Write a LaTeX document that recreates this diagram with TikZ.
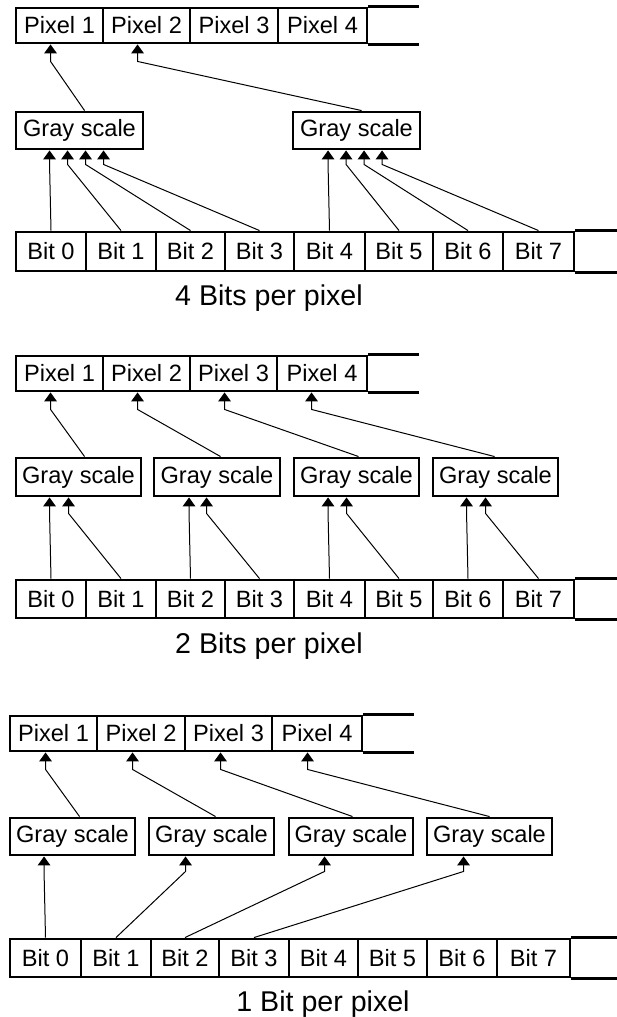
\documentclass[tikz,border=0pt]{standalone}
\usepackage{fontspec}
\setmainfont{Liberation Sans}
\usetikzlibrary{calc,arrows.meta}

\begin{document}
\begin{tikzpicture}[x=0.5pt,y=-0.5pt,
    cell/.style={draw,line width=1.45pt,inner sep=0pt,font=\fontsize{11.8}{13}\selectfont},
    frame/.style={line width=1.45pt},
    link/.style={line width=0.5pt,-{Triangle[width=6.2pt,length=4.4pt]}},
    caption/.style={anchor=base,font=\fontsize{14.3}{17}\selectfont}]
\useasboundingbox (0,0) rectangle (616,1017);

% 4 bits per pixel
\foreach \xl/\xr [count=\i] in {16/103,103/190,190/278,278/367}
  \node[cell,minimum width={(\xr-\xl)*0.5pt},minimum height=17.5pt] (pa\i) at ({(\xl+\xr)/2},25.5) {Pixel \i};
\draw[frame] (pa4.north east) -- ++(51,0) (pa4.south east) -- ++(51,0);
\foreach \xl/\xr [count=\i] in {16/143,293/420}
  \node[cell,minimum width={(\xr-\xl)*0.5pt},minimum height=18.5pt] (ga\i) at ({(\xl+\xr)/2},130.5) {Gray scale};
\foreach \xl/\xr [count=\i from 0] in {16/86,86/156,156/225,225/294,294/365,365/433,433/503,503/574}
  \node[cell,minimum width={(\xr-\xl)*0.5pt},minimum height=19.5pt] (ba\i) at ({(\xl+\xr)/2},251.5) {Bit \i};
\draw[frame] (ba7.north east) -- ++(46,0) (ba7.south east) -- ++(46,0);
\node[caption] (la) at (269,305) {4 Bits per pixel};
\foreach \i in {1,2}
  \draw[link] ($(ga\i.north west)+(70,0)$) -- ($(pa\i.south west)+(36,17)$) -- ++(0,-17);
\foreach \b/\g/\o in {0/1/35,1/1/53,2/1/71,3/1/89,4/2/36.5,5/2/54.5,6/2/72.5,7/2/90.5}
  \draw[link] (ba\b.north) -- ($(ga\g.south west)+(\o,14)$) -- ++(0,-14);

% 2 bits per pixel
\foreach \xl/\xr [count=\i] in {16/103,103/190,190/277,277/367}
  \node[cell,minimum width={(\xr-\xl)*0.5pt},minimum height=17.5pt] (pb\i) at ({(\xl+\xr)/2},373.5) {Pixel \i};
\draw[frame] (pb4.north east) -- ++(51,0) (pb4.south east) -- ++(51,0);
\foreach \xl/\xr [count=\i] in {16/141,154/280,294/419,433/558}
  \node[cell,minimum width={(\xr-\xl)*0.5pt},minimum height=19pt] (gb\i) at ({(\xl+\xr)/2},477) {Gray scale};
\foreach \xl/\xr [count=\i from 0] in {16/86,86/156,156/225,225/294,294/365,365/433,433/503,503/574}
  \node[cell,minimum width={(\xr-\xl)*0.5pt},minimum height=19pt] (bb\i) at ({(\xl+\xr)/2},599) {Bit \i};
\draw[frame] (bb7.north east) -- ++(46,0) (bb7.south east) -- ++(46,0);
\node[caption] (lb) at (269,653) {2 Bits per pixel};
\foreach \i/\o in {1/70,2/68,3/66,4/63}
  \draw[link] ($(gb\i.north west)+(\o,0)$) -- ($(pb\i.south west)+(36,17)$) -- ++(0,-17);
\foreach \b/\g/\o in {0/1/35,1/1/54,2/2/36.5,3/2/54,4/3/35.5,5/3/54,6/4/35,7/4/54}
  \draw[link] (bb\b.north) -- ($(gb\g.south west)+(\o,16)$) -- ++(0,-16);

% 1 bit per pixel
\foreach \xl/\xr [count=\i] in {10/97,97/185,185/272,272/362}
  \node[cell,minimum width={(\xr-\xl)*0.5pt},minimum height=17.5pt] (pc\i) at ({(\xl+\xr)/2},733.5) {Pixel \i};
\draw[frame] (pc4.north east) -- ++(51,0) (pc4.south east) -- ++(51,0);
\foreach \xl/\xr [count=\i] in {10/135,149/274,289/413,427/552}
  \node[cell,minimum width={(\xr-\xl)*0.5pt},minimum height=18.5pt] (gc\i) at ({(\xl+\xr)/2},836.5) {Gray scale};
\foreach \xl/\xr [count=\i from 0] in {10/81,81/151,151/219,219/289,289/358,358/427,427/497,497/570}
  \node[cell,minimum width={(\xr-\xl)*0.5pt},minimum height=19pt] (bc\i) at ({(\xl+\xr)/2},958) {Bit \i};
\draw[frame] (bc7.north east) -- ++(50,0) (bc7.south east) -- ++(50,0);
\node[caption] (lc) at (323,1011) {1 Bit per pixel};
\foreach \i/\o in {1/71,2/68,3/65,4/64}
  \draw[link] ($(gc\i.north west)+(\o,0)$) -- ($(pc\i.south west)+(37,17)$) -- ++(0,-17);
\foreach \b/\g/\o in {0/1/35.5,1/2/38,2/3/37,3/4/38}
  \draw[link] (bc\b.north) -- ($(gc\g.south west)+(\o,15)$) -- ++(0,-15);
\end{tikzpicture}
\end{document}
